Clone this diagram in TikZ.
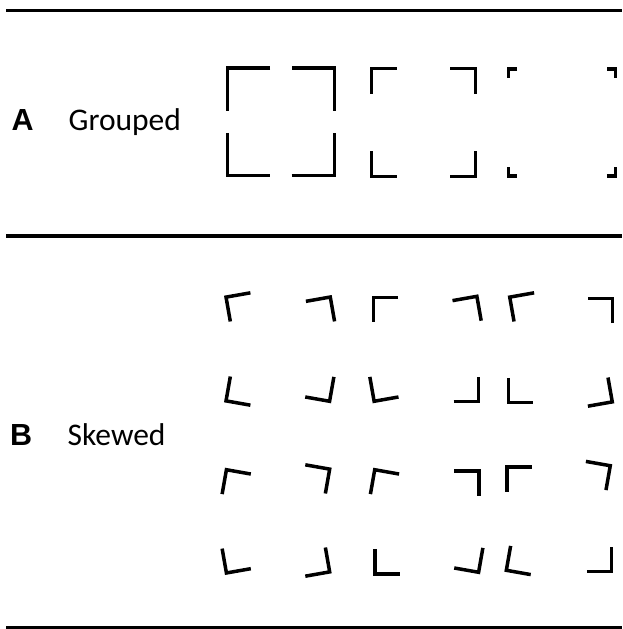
\documentclass[tikz,border=0pt]{standalone}
\usepackage{fontspec}
\setmainfont{Carlito}
\newfontfamily\labfont{Liberation Sans}
\newcommand\cornTL[4]{\pic[rotate=#3] at (#1,#2) {crn=#4};}
\newcommand\cornTR[4]{\pic[rotate=#3-90] at (#1,#2) {crn=#4};}
\newcommand\cornBL[4]{\pic[rotate=#3+90] at (#1,#2) {crn=#4};}
\newcommand\cornBR[4]{\pic[rotate=#3+180] at (#1,#2) {crn=#4};}
\begin{document}
\begin{tikzpicture}[x=1pt,y=-1pt,
  rule/.style={line width=3.2pt},
  cstroke/.style={line width=3.5pt, line join=miter, line cap=butt},
  pics/crn/.style={code={\draw[cstroke] (#1pt,-1.75pt) -- (1.75pt,-1.75pt) -- (1.75pt,-#1pt);}},
  lettr/.style={anchor=base west, inner sep=0pt, font=\labfont\bfseries\fontsize{30.5}{36}\selectfont},
  word/.style={anchor=base west, inner sep=0pt, font=\fontsize{31.5}{38}\selectfont}
]
\useasboundingbox (0,0) rectangle (622,629);

% rules
\draw[rule] (6,10.7) -- (622,10.7);
\draw[rule] (6,236) -- (622,236);
\draw[rule] (6,627.4) -- (622,627.4);

% labels
\node[lettr] (la) at (11.5,130) {A};
\node[word]  (lg) at (68.5,130) {Grouped};
\node[lettr] (lb) at (10,445) {B};
\node[word]  (ls) at (67.5,445) {Skewed};

% A: grouped
\cornTL{225.7}{66}{0}{44.5}
\cornTR{336}{66}{0}{44.5}
\cornBL{225.7}{177.3}{0}{44.5}
\cornBR{336}{177.3}{0}{44.5}

\cornTL{369.5}{66.5}{0}{27}
\cornTR{477}{66.5}{0}{27}
\cornBL{369.5}{178}{0}{27}
\cornBR{477}{178}{0}{27}

\cornTL{506.7}{67.3}{0}{10.5}
\cornTR{617.3}{67.3}{0}{10.5}
\cornBL{506.7}{177.7}{0}{10.5}
\cornBR{617.3}{177.7}{0}{10.5}

% B: skewed, row 1
\cornTL{224}{295.7}{10}{26.5}
\cornTR{331.7}{295}{10}{26.5}
\cornBL{224}{402.3}{-10}{26.5}
\cornBR{331}{403.3}{-10}{26.5}

\cornTL{371.7}{295.7}{0}{26.5}
\cornTR{478.3}{294.3}{10}{26.5}
\cornBL{372.7}{403.3}{10}{26.5}
\cornBR{480}{403.3}{0}{26.5}

\cornTL{507.7}{295.7}{10}{26.5}
\cornTR{614.3}{296.7}{0}{26.5}
\cornBL{506.7}{404.3}{0}{26.5}
\cornBR{614.3}{403.3}{10}{26.5}

% B: skewed, row 2
\cornTL{225}{467.7}{-10}{26.5}
\cornTR{331.7}{467.7}{-10}{26.5}
\cornBL{225}{575}{10}{26.5}
\cornBR{331.7}{573.3}{10}{26.5}

\cornTL{373.3}{467.7}{-10}{26.5}
\cornTR{480.7}{469}{0}{26.5}
\cornBL{373.3}{575.7}{0}{26.5}
\cornBR{480}{574.3}{-10}{26.5}

\cornTL{505}{465}{0}{26.5}
\cornTR{612.3}{464.3}{-10}{26.5}
\cornBL{504.3}{571.7}{-10}{26.5}
\cornBR{613.3}{573.3}{0}{26.5}
\end{tikzpicture}
\end{document}
